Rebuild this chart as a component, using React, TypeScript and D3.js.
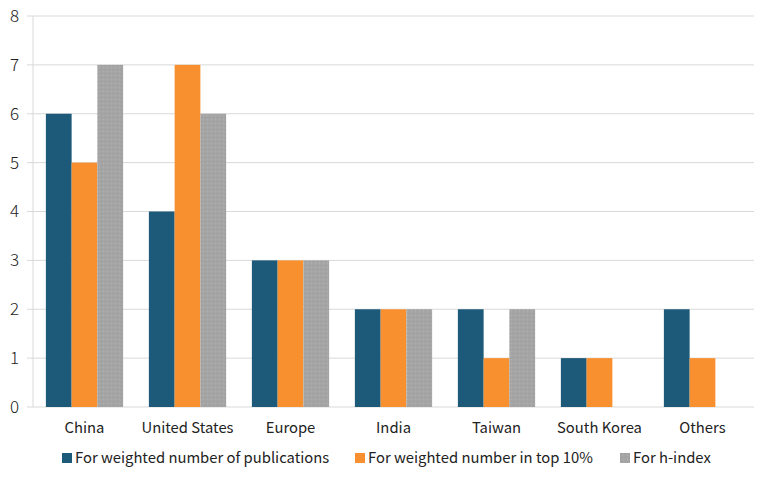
import React from "react";
import * as d3 from "d3";

const categories = ["China", "United States", "Europe", "India", "Taiwan", "South Korea", "Others"];
const seriesNames = [
  "For weighted number of publications",
  "For weighted number in top 10%",
  "For h-index",
];
const publications = [6, 4, 3, 2, 2, 1, 2];
const top10 = [5, 7, 3, 2, 1, 1, 1];
const hIndex = [7, 6, 3, 2, 2, 0, 0];
const yTicks = [0, 1, 2, 3, 4, 5, 6, 7, 8];
const colors = ["#1d5a7a", "#f89030", "#a5a5a5"];

const W = 768;
const H = 480;
const left = 33;
const right = 754;
const top = 16;
const bottom = 407;
const font = "'Noto Sans CJK JP', 'DejaVu Sans', sans-serif";

export default function App() {
  const series = [publications, top10, hIndex];
  const x = d3.scaleBand<string>().domain(categories).range([left, right]).paddingInner(0).paddingOuter(0);
  const inner = d3
    .scaleBand<number>()
    .domain([0, 1, 2])
    .range([0, x.bandwidth()])
    .paddingInner(0)
    .paddingOuter(0.5);
  const y = d3.scaleLinear().domain([0, 8]).range([bottom, top]);

  const legendX = [62, 355, 620];

  return (
    <svg width={W} height={H} style={{ position: "absolute", left: 0, top: 0, background: "#fff" }}>
      <defs>
        <pattern id="dots" width="4" height="4" patternUnits="userSpaceOnUse">
          <rect width="4" height="4" fill={colors[2]} />
          <rect x="1" y="1" width="1" height="1" fill="#999" />
          <rect x="3" y="3" width="1" height="1" fill="#b0b0b0" />
        </pattern>
      </defs>
      {yTicks.map((t) => (
        <g key={t}>
          <line x1={27} x2={right} y1={y(t)} y2={y(t)} stroke="#d9d9d9" strokeWidth={1} />
          <text x={19} y={y(t)} dy="0.35em" textAnchor="end" fontFamily={font} fontSize={17} fontWeight={300} fill="#222">
            {t}
          </text>
        </g>
      ))}
      <line x1={left} x2={left} y1={top} y2={bottom} stroke="#d9d9d9" strokeWidth={1} />
      {categories.map((c, i) => (
        <g key={c}>
          {series.map((s, j) =>
            s[i] > 0 ? (
              <rect
                key={j}
                x={(x(c) as number) + (inner(j) as number)}
                y={y(s[i])}
                width={inner.bandwidth()}
                height={y(0) - y(s[i])}
                fill={j === 2 ? "url(#dots)" : colors[j]}
              />
            ) : null
          )}
          <text
            x={(x(c) as number) + x.bandwidth() / 2}
            y={433}
            textAnchor="middle"
            fontFamily={font}
            fontSize={14.8}
            fill="#222"
          >
            {c}
          </text>
        </g>
      ))}
      {seriesNames.map((n, j) => (
        <g key={n}>
          <rect x={legendX[j]} y={453} width={10} height={10} fill={j === 2 ? "url(#dots)" : colors[j]} />
          <text x={legendX[j] + 13} y={463} fontFamily={font} fontSize={14.8} fill="#222">
            {n}
          </text>
        </g>
      ))}
    </svg>
  );
}
